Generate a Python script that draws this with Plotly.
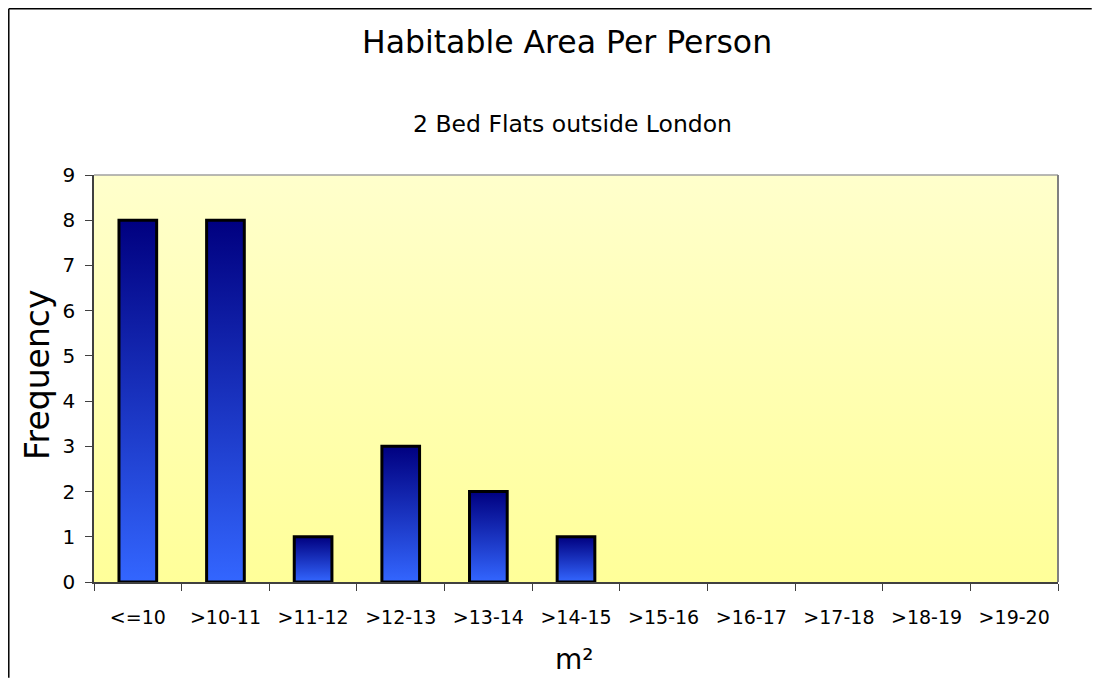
import plotly.graph_objects as go

# ---- data ----
categories = ["<=10", ">10-11", ">11-12", ">12-13", ">13-14", ">14-15",
              ">15-16", ">16-17", ">17-18", ">18-19", ">19-20"]
frequency = [8, 8, 1, 3, 2, 1, 0, 0, 0, 0, 0]
y_max = 9
title_text = "Habitable Area Per Person"
subtitle_text = "2 Bed Flats outside London"
x_title = "m²"
y_title = "Frequency"

FONT = "DejaVu Sans"
BAR_W = 0.43
n = len(categories)
idx = list(range(n))
x_lo, x_hi = -0.5, n - 0.5

fig = go.Figure()

# plot-area background gradient (pale yellow)
fig.add_trace(go.Scatter(
    x=[x_lo, x_hi, x_hi, x_lo, x_lo], y=[0, 0, y_max, y_max, 0],
    mode="none", fill="toself",
    fillgradient=dict(type="vertical",
                      colorscale=[[0, "#FFFF99"], [1, "#FFFFCC"]]),
    hoverinfo="skip", showlegend=False))

# per-bar vertical gradient fill (blue at bottom -> navy at top)
for i, v in zip(idx, frequency):
    if v <= 0:
        continue
    fig.add_trace(go.Scatter(
        x=[i - BAR_W / 2, i + BAR_W / 2, i + BAR_W / 2, i - BAR_W / 2, i - BAR_W / 2],
        y=[0, 0, v, v, 0],
        mode="none", fill="toself",
        fillgradient=dict(type="vertical",
                          colorscale=[[0, "#3366FF"], [1, "#000080"]]),
        hoverinfo="skip", showlegend=False))

# the bars themselves (outline), on an overlay axis so they sit above the fills
fig.add_trace(go.Bar(
    x=idx, y=frequency, width=BAR_W,
    marker=dict(color="rgba(0,0,0,0)",
                line=dict(color="black",
                          width=[3 if v > 0 else 0 for v in frequency])),
    xaxis="x2", yaxis="y2", showlegend=False,
    hovertext=categories, hoverinfo="text+y"))

axis_col = "#404040"
fig.update_layout(
    width=1087, height=670,
    margin=dict(l=86, r=37, t=167, b=96),
    paper_bgcolor="white", plot_bgcolor="white",
    showlegend=False,
    font=dict(family=FONT, color="black"),
    xaxis=dict(
        range=[x_lo, x_hi], tickmode="array", tickvals=idx, ticktext=categories,
        ticks="", showgrid=False, zeroline=False,
        showline=True, linecolor=axis_col, linewidth=1.5,
        minor=dict(tickmode="linear", tick0=-0.5, dtick=1, ticks="outside",
                   ticklen=7, tickcolor=axis_col, tickwidth=1, showgrid=False),
        ticklabelstandoff=17,
        tickfont=dict(family=FONT, size=19, color="black"),
        fixedrange=True),
    yaxis=dict(
        range=[0, y_max], tickmode="linear", tick0=0, dtick=1,
        ticks="outside", ticklen=7, tickcolor=axis_col, tickwidth=1,
        showgrid=False, zeroline=False,
        showline=True, linecolor=axis_col, linewidth=1.5,
        ticklabelstandoff=6,
        tickfont=dict(family=FONT, size=20, color="black"),
        fixedrange=True),
    xaxis2=dict(overlaying="x", range=[x_lo, x_hi], visible=False, fixedrange=True),
    yaxis2=dict(overlaying="y", range=[0, y_max], visible=False, fixedrange=True),
    annotations=[
        dict(text=title_text, x=0.4907, y=1.3268, xref="paper", yref="paper",
             showarrow=False, font=dict(family=FONT, size=31.5, color="black"),
             xanchor="center", yanchor="middle"),
        dict(text=subtitle_text, x=0.4964, y=1.1253, xref="paper", yref="paper",
             showarrow=False, font=dict(family=FONT, size=23.5, color="black"),
             xanchor="center", yanchor="middle"),
        dict(text=y_title, x=-0.0581, y=0.5086, xref="paper", yref="paper",
             showarrow=False, textangle=-90,
             font=dict(family=FONT, size=33, color="black"),
             xanchor="center", yanchor="middle"),
        dict(text=x_title, x=0.4986, y=-0.1916, xref="paper", yref="paper",
             showarrow=False, font=dict(family=FONT, size=28, color="black"),
             xanchor="center", yanchor="middle"),
    ],
    shapes=[
        # top and right plot-area border
        dict(type="line", xref="paper", yref="paper", x0=0, x1=1, y0=1, y1=1,
             line=dict(color="#A0A0A0", width=1.5), layer="above"),
        dict(type="line", xref="paper", yref="paper", x0=1, x1=1, y0=0, y1=1,
             line=dict(color="#808080", width=2), layer="above"),
        # outer chart frame: only left and top edges fall inside the view
        dict(type="line", xref="paper", yref="paper",
             x0=-0.0884, x1=-0.0884, y0=-0.235, y1=1.4085,
             line=dict(color="black", width=1.5), layer="above"),
        dict(type="line", xref="paper", yref="paper",
             x0=-0.0884, x1=1.035, y0=1.4085, y1=1.4085,
             line=dict(color="black", width=1.5), layer="above"),
    ],
)

fig.write_html("out.html")
